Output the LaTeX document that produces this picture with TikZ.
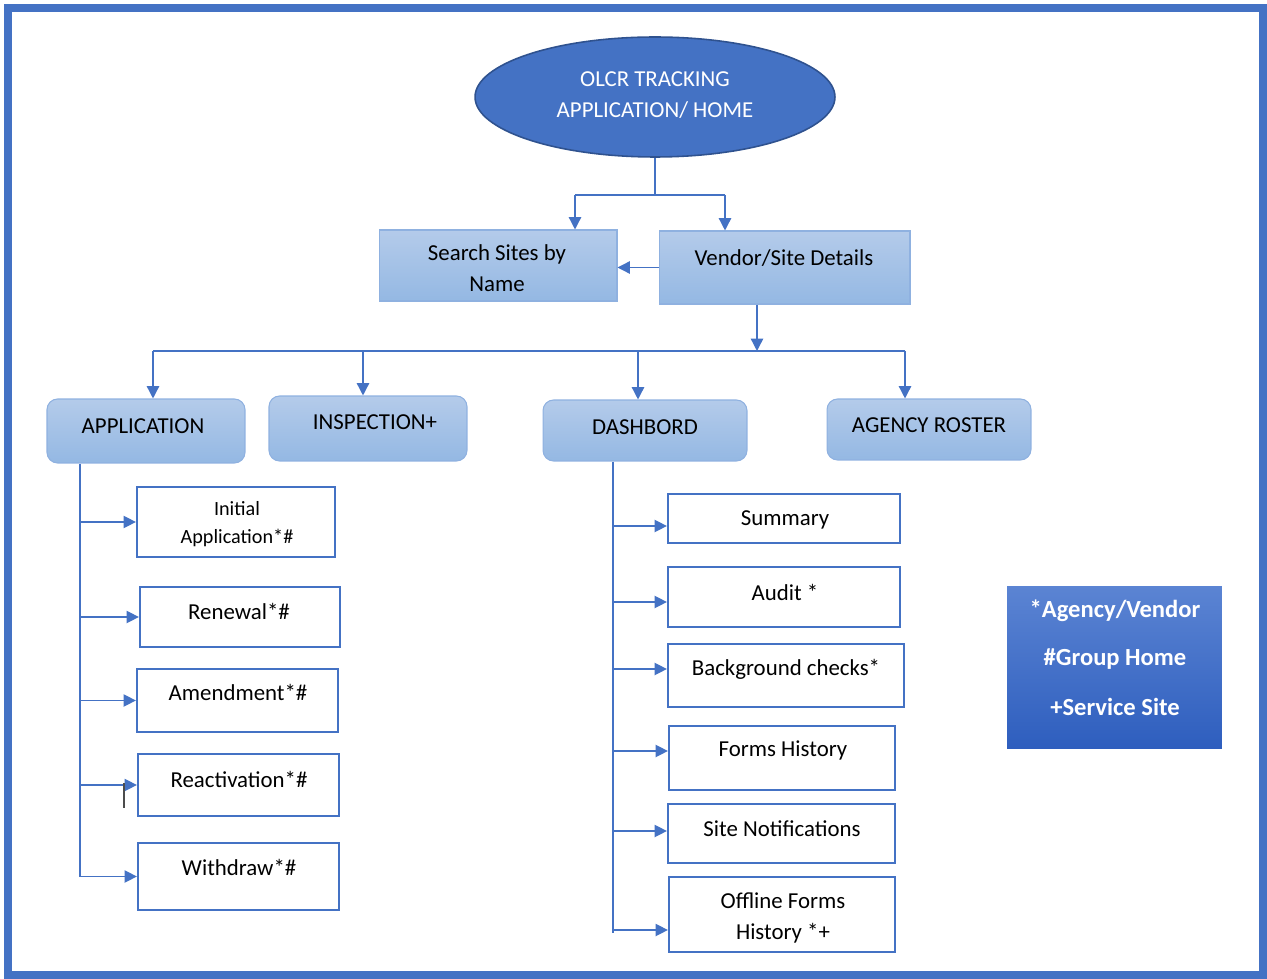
\documentclass[tikz,border=0pt]{standalone}
\usepackage{fontspec}
\setmainfont{Carlito}
\usetikzlibrary{arrows.meta,shapes.geometric}
\definecolor{linkblue}{HTML}{4472C4}
\definecolor{homeedge}{HTML}{2F528F}
\definecolor{boxtop}{HTML}{B4CBEA}
\definecolor{boxbot}{HTML}{94B8E3}
\definecolor{boxedge}{HTML}{8FB1E0}
\definecolor{keytop}{HTML}{5B84D3}
\definecolor{keybot}{HTML}{2E5EBE}
\begin{document}
\begin{tikzpicture}[
    x=0.02cm, y=-0.02cm,
    line/.style={draw=linkblue, line width=0.8pt},
    arrow/.style={line, -{Triangle[length=7pt,width=7pt]}},
    topbox/.style={rectangle, draw=boxedge, line width=0.6pt, top color=boxtop, bottom color=boxbot},
    menubox/.style={topbox, rounded corners=6pt},
    leaf/.style={rectangle, draw=linkblue, line width=1.3pt, fill=white},
    txt/.style={inner sep=0pt, align=center, font=\fontsize{13}{17.5}\selectfont},
    small/.style={inner sep=0pt, align=center, font=\fontsize{11.5}{16}\selectfont}
]
    \useasboundingbox (0,0) rectangle (1267,979);
    \draw[linkblue, line width=0.16cm] (8,8) rectangle (1263,975);

    % Home
    \node[ellipse, draw=homeedge, line width=0.9pt, fill=linkblue, inner sep=0pt,
          minimum width=7.2cm, minimum height=2.4cm] (home) at (655,97) {};
    \node[txt, text=white] (home-l) at (655,95) {OLCR TRACKING\\APPLICATION/ HOME};

    % Search and vendor
    \node[topbox, minimum width=4.76cm, minimum height=1.42cm] (search) at (498,265.5) {};
    \node[txt] (search-l) at (497,268) {Search Sites by\\Name};
    \node[topbox, minimum width=5.02cm, minimum height=1.46cm] (vendor) at (784.5,267.5) {};
    \node[txt] (vendor-l) at (784,258) {Vendor/Site Details};

    \coordinate (split) at (655,195);
    \coordinate (s1) at (575,195);
    \coordinate (s2) at (725,195);
    \draw[line] (home.south) -- (split);
    \draw[line] (s1) -- (s2);
    \draw[arrow] (s1) -- (s1 |- search.north);
    \draw[arrow] (s2) -- (s2 |- vendor.north);
    \draw[arrow] (vendor.west) -- (search.east |- vendor.west);

    % Menu
    \node[menubox, minimum width=3.96cm, minimum height=1.28cm] (app) at (146,431) {};
    \node[txt] (app-l) at (143,426) {APPLICATION};
    \node[menubox, minimum width=3.96cm, minimum height=1.3cm] (insp) at (368,428.5) {};
    \node[txt] (insp-l) at (375,422) {INSPECTION+};
    \node[menubox, minimum width=4.08cm, minimum height=1.22cm] (dash) at (645,430.5) {};
    \node[txt] (dash-l) at (645,427) {DASHBORD};
    \node[menubox, minimum width=4.08cm, minimum height=1.22cm] (roster) at (929,429.5) {};
    \node[txt] (roster-l) at (929,425) {AGENCY ROSTER};

    \coordinate (bar) at (757,351);
    \coordinate (b1) at (153,351);
    \coordinate (b2) at (363,351);
    \coordinate (b3) at (638,351);
    \coordinate (b4) at (905,351);
    \draw[arrow] (bar |- vendor.south) -- (bar);
    \draw[line] (b1) -- (b4);
    \draw[arrow] (b1) -- (b1 |- app.north);
    \draw[arrow] (b2) -- (b2 |- insp.north);
    \draw[arrow] (b3) -- (b3 |- dash.north);
    \draw[arrow] (b4) -- (b4 |- roster.north);

    % Application pages
    \node[leaf, minimum width=3.96cm, minimum height=1.4cm] (init) at (236,522) {};
    \node[small] (init-l) at (237,524) {Initial\\Application*\#};
    \node[leaf, minimum width=4cm, minimum height=1.2cm] (renewal) at (240,617) {};
    \node[txt] (renewal-l) at (239,611) {Renewal*\#};
    \node[leaf, minimum width=4.02cm, minimum height=1.26cm] (amend) at (237.5,700.5) {};
    \node[txt] (amend-l) at (238,692) {Amendment*\#};
    \node[leaf, minimum width=4.02cm, minimum height=1.24cm] (react) at (238.5,785) {};
    \node[txt] (react-l) at (239,779) {Reactivation*\#};
    \node[leaf, minimum width=4.02cm, minimum height=1.34cm] (withdraw) at (238.5,876.5) {};
    \node[txt] (withdraw-l) at (239,867) {Withdraw*\#};

    \coordinate (atrunk) at (80,877);
    \draw[line] (atrunk |- app.south) -- (atrunk);
    \foreach \n in {init,renewal,amend,react,withdraw}
        \draw[arrow] (atrunk |- \n.west) -- (\n.west);
    \draw[black!70, line width=0.6pt] (124,783) -- (124,808);

    % Dashboard pages
    \node[leaf, minimum width=4.64cm, minimum height=0.98cm] (summary) at (784,518.5) {};
    \node[txt] (summary-l) at (785,520) {Summary};
    \node[leaf, minimum width=4.64cm, minimum height=1.2cm] (audit) at (784,597) {};
    \node[txt] (audit-l) at (785,592) {Audit *};
    \node[leaf, minimum width=4.72cm, minimum height=1.26cm] (bgcheck) at (786,675.5) {};
    \node[txt] (bgcheck-l) at (786,669) {Background checks*};
    \node[leaf, minimum width=4.52cm, minimum height=1.28cm] (forms) at (782,758) {};
    \node[txt] (forms-l) at (783,750) {Forms History};
    \node[leaf, minimum width=4.54cm, minimum height=1.18cm] (notes) at (781.5,833.5) {};
    \node[txt] (notes-l) at (782,829) {Site Notifications};
    \node[leaf, minimum width=4.52cm, minimum height=1.5cm] (offline) at (782,914.5) {};
    \node[txt] (offline-l) at (783,918) {Offline Forms\\History *+};

    \coordinate (dtrunk) at (613,933);
    \draw[line] (dtrunk |- dash.south) -- (dtrunk);
    \foreach \n/\y in {summary/526,audit/602,bgcheck/669,forms/751,notes/831,offline/930}
        \draw[arrow] (dtrunk |- 0,\y) -- (\n.west |- 0,\y);

    % Key
    \node[rectangle, top color=keytop, bottom color=keybot, minimum width=4.3cm, minimum height=3.26cm] (key) at (1114.5,667.5) {};
    \node[txt, text=white, font=\fontsize{14}{17}\selectfont\bfseries] (key-a) at (1115,611) {*Agency/Vendor};
    \node[txt, text=white, font=\fontsize{14}{17}\selectfont\bfseries] (key-g) at (1115,659) {\#Group Home};
    \node[txt, text=white, font=\fontsize{14}{17}\selectfont\bfseries] (key-s) at (1115,707) {+Service Site};
\end{tikzpicture}
\end{document}
